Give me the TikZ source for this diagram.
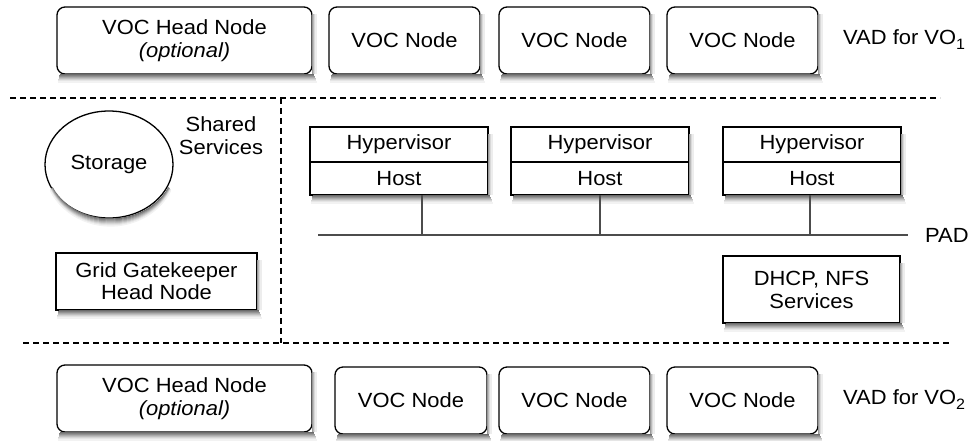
\documentclass[tikz,border=0pt]{standalone}
\usepackage{fontspec}
\setmainfont{Liberation Sans}[FakeStretch=1.07]
\usetikzlibrary{shapes.geometric,fit}

\newcommand{\subnum}[1]{\raisebox{-0.45ex}{\fontsize{15}{15}\selectfont #1}}

% soft shadow along the lower and right edges of a box,
% built from fading grey strokes: #1 node name
\newcommand{\boxshadow}[1]{%
  \foreach \d/\g in {1/58,2/50,3/42,4/33,5/25,6/17,7/10,8/5}{
    \draw[black!\g,line width=1.2pt]
      ([shift={(3-0.3*\d,\d)}]#1.south west) --
      ([shift={(1.5+0.4*\d,\d)}]#1.south east);
  }
  \foreach \d/\g in {1/40,2/27,3/15,4/7}{
    \draw[black!\g,line width=1.2pt]
      ([shift={(\d,7)}]#1.north east) -- ([shift={(\d,0)}]#1.south east);
  }}
% the same under an elliptic node: #1 node, #2 x radius, #3 y radius
\newcommand{\ellshadow}[3]{%
  \foreach \d/\g in {1/58,2/50,3/42,4/33,5/25,6/17,7/10,8/5}{
    \draw[black!\g,line width=1.2pt] ([shift={(1.5,0)}]#1.center)
      ++(25:{#2+0.3*\d} and {#3+\d})
      arc[start angle=25,end angle=155,x radius={#2+0.3*\d},y radius={#3+\d}];
  }}

\begin{document}
\begin{tikzpicture}[x=1pt,y=-1pt,
  font=\fontsize{20.5}{24}\selectfont,
  vocbox/.style={draw=black,line width=1.3pt,fill=white,rounded corners=8pt,
      inner sep=0pt,outer sep=0pt,align=center,minimum height=67pt},
  plainbox/.style={draw=black,line width=1.3pt,fill=white,inner sep=0pt,
      outer sep=0pt,align=center},
  hyppart/.style={draw=black,line width=1.3pt,fill=white,inner sep=0pt,
      outer sep=0pt,minimum width=178pt,minimum height=35pt},
  hostpart/.style={draw=black,line width=1.3pt,fill=white,inner sep=0pt,
      outer sep=0pt,minimum width=178pt,minimum height=33pt},
  border/.style={line width=1.2pt,dash pattern=on 6pt off 4pt},
  wire/.style={draw=black!70,line width=1.4pt},
  label/.style={inner sep=0pt,align=center}]

\useasboundingbox (0,0) rectangle (974,440);

% ---------- VAD for VO1 ----------
\node[vocbox,minimum width=255pt] (h1) at (184.5,40.5)
  {VOC Head Node\\[-1pt]\textit{(optional)}};
\node[vocbox,minimum width=151pt] (a1) at (404.5,40.5) {VOC Node};
\node[vocbox,minimum width=151pt] (a2) at (574.5,40.5) {VOC Node};
\node[vocbox,minimum width=151pt] (a3) at (742.5,40.5) {VOC Node};
\node[label,anchor=west] (vad1) at (843,40) {VAD for VO\subnum{1}};
\boxshadow{h1}\boxshadow{a1}\boxshadow{a2}\boxshadow{a3}

% ---------- separators ----------
\coordinate (s1) at (10,98);
\coordinate (s2) at (940,98);
\coordinate (s3) at (281,98);
\coordinate (s4) at (281,343);
\coordinate (s5) at (23,343);
\coordinate (s6) at (952,343);
\draw[border] (s1) -- (s2);
\draw[border] (s3) -- (s4);
\draw[border] (s5) -- (s6);

% ---------- shared services ----------
\node[ellipse,draw=black,line width=1.3pt,fill=white,inner sep=0pt,
  minimum width=128pt,minimum height=107pt] (stor) at (109,164.5) {Storage};
\ellshadow{stor}{64}{53.5}
\node[label] (shared) at (221,136) {Shared\\[-1pt]Services};
\node[plainbox,minimum width=201pt,minimum height=57pt] (gk) at (156.5,281.5)
  {Grid Gatekeeper\\[-2pt]Head Node};
\boxshadow{gk}

% ---------- physical hosts ----------
\foreach \i/\cx in {1/399,2/600,3/812}{
  \node[hyppart] (hyp\i) at (\cx,144.5) {Hypervisor};
  \node[hostpart] (host\i) at (\cx,178.5) {Host};
  \node[inner sep=0pt,outer sep=0pt,fit=(hyp\i)(host\i)] (hv\i) {};
}
\boxshadow{hv1}\boxshadow{hv2}\boxshadow{hv3}
\draw[line width=2.6pt] (hyp1.south west) -- (hyp1.south east);

% ---------- PAD ----------
\coordinate (padL) at (318,235);
\coordinate (padR) at (908,235);
\coordinate (t1) at (422,235);
\coordinate (t2) at (600,235);
\coordinate (t3) at (810,235);
\draw[wire] (padL) -- (padR);
\draw[wire] (host1.south -| t1) -- (t1);
\draw[wire] (host2.south -| t2) -- (t2);
\draw[wire] (host3.south -| t3) -- (t3);
\node[label,anchor=west] (pad) at (925,235) {PAD};

\node[plainbox,minimum width=177pt,minimum height=67pt] (dhcp) at (811.5,289.5)
  {DHCP, NFS\\[-1pt]Services};
\boxshadow{dhcp}

% ---------- VAD for VO2 ----------
\node[vocbox,minimum width=255pt] (h2) at (184.5,398.5)
  {VOC Head Node\\[-1pt]\textit{(optional)}};
\node[vocbox,minimum width=152pt] (b1) at (411,400.5) {VOC Node};
\node[vocbox,minimum width=151pt] (b2) at (574.5,400.5) {VOC Node};
\node[vocbox,minimum width=151pt] (b3) at (742.5,400.5) {VOC Node};
\node[label,anchor=west] (vad2) at (843,400) {VAD for VO\subnum{2}};
\boxshadow{h2}\boxshadow{b1}\boxshadow{b2}\boxshadow{b3}

\end{tikzpicture}
\end{document}
